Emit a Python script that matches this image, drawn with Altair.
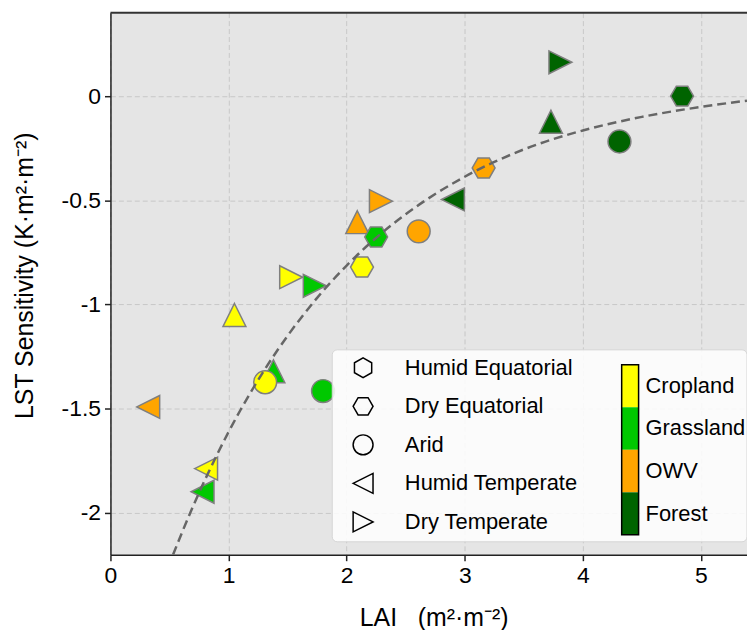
import altair as alt
import pandas as pd

FONT = "Liberation Sans"

# ---- categories -------------------------------------------------------------
COVERS = ["Cropland", "Grassland", "OWV", "Forest"]
COVER_COLORS = ["#FFFF00", "#00C800", "#FFA500", "#006400"]

LEGEND_ZONES = ["Humid Equatorial", "Dry Equatorial", "Arid",
                "Humid Temperate", "Dry Temperate"]
ZONE_KEYS = LEGEND_ZONES + ["Unlisted"]

HEX_POINTY = "M0,-1L0.866,-0.5L0.866,0.5L0,1L-0.866,0.5L-0.866,-0.5Z"
HEX_FLAT = "M1,0L0.5,0.866L-0.5,0.866L-1,0L-0.5,-0.866L0.5,-0.866Z"
TRI_LEFT = "M-1,0L1,-1L1,1Z"
TRI_RIGHT = "M1,0L-1,-1L-1,1Z"
TRI_UP = "M0,-1L1,1L-1,1Z"
ZONE_SHAPES = [HEX_POINTY, HEX_FLAT, "circle", TRI_LEFT, TRI_RIGHT, TRI_UP]

# ---- points ----------------------------------------------------------------
PT_COVER = ["Cropland", "Grassland", "OWV", "Forest",
            "Cropland", "Grassland", "OWV", "Forest",
            "Cropland", "Grassland", "OWV", "Forest",
            "Cropland", "Grassland", "OWV", "Forest",
            "Cropland", "Grassland", "OWV", "Forest"]
PT_ZONE = ["Unlisted"] * 4 + ["Dry Equatorial"] * 4 + ["Arid"] * 4 + \
          ["Humid Temperate"] * 4 + ["Dry Temperate"] * 4
PT_LAI = [1.05, 1.38, 2.09, 3.73,
          2.13, 2.25, 3.16, 4.84,
          1.31, 1.80, 2.61, 4.31,
          0.81, 0.78, 0.32, 2.90,
          1.53, 1.73, 2.29, 3.81]
PT_SENS = [-1.05, -1.32, -0.605, -0.123,
           -0.82, -0.676, -0.345, 0.0,
           -1.373, -1.415, -0.649, -0.218,
           -1.787, -1.898, -1.491, -0.496,
           -0.869, -0.91, -0.504, 0.162]

# ---- fitted curve ----------------------------------------------------------
CURVE_LAI = [0.53, 0.7, 0.9, 1.1, 1.3, 1.5, 1.75, 2.0, 2.25, 2.5, 2.75,
             3.0, 3.5, 4.0, 4.5, 5.0, 5.39]
CURVE_SENS = [-2.2, -1.967, -1.723, -1.507, -1.317, -1.150, -0.968, -0.813,
              -0.680, -0.567, -0.470, -0.387, -0.256, -0.165, -0.100,
              -0.052, -0.022]

X_TICKS = [0, 1, 2, 3, 4, 5]
Y_TICKS = [0, -0.5, -1, -1.5, -2]

pts = pd.DataFrame({"cover": PT_COVER, "zone": PT_ZONE,
                    "lai": PT_LAI, "sens": PT_SENS})
curve = pd.DataFrame({"lai": CURVE_LAI, "sens": CURVE_SENS})
leg_zone = pd.DataFrame({"zone": LEGEND_ZONES})
leg_cover = pd.DataFrame({"cover": COVERS})
dummy = pd.DataFrame({"d": [0]})

W, H = 640, 545

color_scale = alt.Scale(domain=COVERS, range=COVER_COLORS)
shape_scale = alt.Scale(domain=ZONE_KEYS, range=ZONE_SHAPES)

X = alt.X("lai:Q", scale=alt.Scale(domain=[0, 5.39], nice=False, zero=False),
          axis=alt.Axis(values=X_TICKS, title="LAI\u00a0\u00a0\u00a0(m²·m⁻²)",
                        titleX=325, titleY=63, titleBaseline="middle",
                        titleAlign="center", labelFlush=False,
                        titleFontSize=25))
Y = alt.Y("sens:Q", scale=alt.Scale(domain=[-2.2, 0.4], nice=False, zero=False),
          axis=alt.Axis(values=Y_TICKS, labelExpr="toString(datum.value)",
                        title="LST Sensitivity (K·m²·m⁻²)",
                        titleX=-86, titleY=264, titleAngle=270,
                        titleBaseline="middle", titleAlign="center",
                        titleFontSize=25))

points = alt.Chart(pts).mark_point(
    filled=True, size=529, stroke="#7F7F7F", strokeWidth=1.5, opacity=1
).encode(
    x=X, y=Y,
    color=alt.Color("cover:N", scale=color_scale, legend=None),
    shape=alt.Shape("zone:N", scale=shape_scale, legend=None),
)

line = alt.Chart(curve).mark_line(
    color="#666666", strokeWidth=2.5, strokeDash=[9, 5],
    interpolate="monotone", clip=True
).encode(x=X, y=Y)

top_border = alt.Chart(dummy).mark_rule(color="#333333", strokeWidth=2).encode(
    x=alt.value(0), x2=alt.value(W), y=alt.value(0))

box = alt.Chart(dummy).mark_rect(
    fill="white", fillOpacity=0.85, stroke="#D5D5D5", strokeWidth=1,
    cornerRadius=5
).encode(x=alt.value(223), x2=alt.value(W), y=alt.value(339), y2=alt.value(532))

main = alt.layer(points, line, top_border, box)

# shape legend
yz = alt.Y("zone:N", scale=alt.Scale(type="point", domain=LEGEND_ZONES,
                                       range=[357, 512], padding=0), axis=None)
sym = alt.Chart(leg_zone).mark_point(
    filled=False, color="black", strokeWidth=1.5, size=400, opacity=1
).encode(x=alt.value(254), y=yz,
         shape=alt.Shape("zone:N", scale=shape_scale, legend=None))
sym_txt = alt.Chart(leg_zone).mark_text(
    align="left", baseline="middle", fontSize=22, font=FONT, color="black"
).encode(x=alt.value(296), y=yz, text="zone:N")
shape_leg = alt.layer(sym, sym_txt)

# colour bar legend
yc_scale = alt.Scale(type="band", domain=COVERS, range=[354, 525],
                     paddingInner=0, paddingOuter=0)
bar = alt.Chart(leg_cover).mark_rect().encode(
    x=alt.value(514), x2=alt.value(531),
    y=alt.Y("cover:N", scale=yc_scale, axis=None),
    color=alt.Color("cover:N", scale=color_scale, legend=None))
bar_txt = alt.Chart(leg_cover).mark_text(
    align="left", baseline="middle", fontSize=22, font=FONT, color="black"
).encode(x=alt.value(538),
         y=alt.Y("cover:N", scale=yc_scale, axis=None, bandPosition=0.5),
         text="cover:N")
bar_outline = alt.Chart(dummy).mark_rect(
    fillOpacity=0, stroke="black", strokeWidth=1.5
).encode(x=alt.value(514), x2=alt.value(531), y=alt.value(354), y2=alt.value(525))
color_leg = alt.layer(bar, bar_txt, bar_outline)

chart = alt.layer(main, shape_leg, color_leg).resolve_scale(
    y="independent"
).properties(
    width=W, height=H,
    autosize=alt.AutoSizeParams(type="none"),
    padding={"left": 103, "top": 3, "right": 0, "bottom": 74},
).configure_view(
    fill="#E5E5E5", stroke="transparent"
).configure_axis(
    labelFont=FONT, titleFont=FONT, labelFontSize=23, titleFontSize=24,
    titleFontWeight="normal", labelColor="black", titleColor="black",
    domainColor="#222222", domainWidth=1.5, tickColor="#222222",
    tickWidth=1.5, tickSize=6, labelPadding=4,
    gridColor="#C8C8C8", gridDash=[5, 3], gridWidth=1,
)

chart.save("out.html", embed_options={"renderer": "svg", "actions": False})
